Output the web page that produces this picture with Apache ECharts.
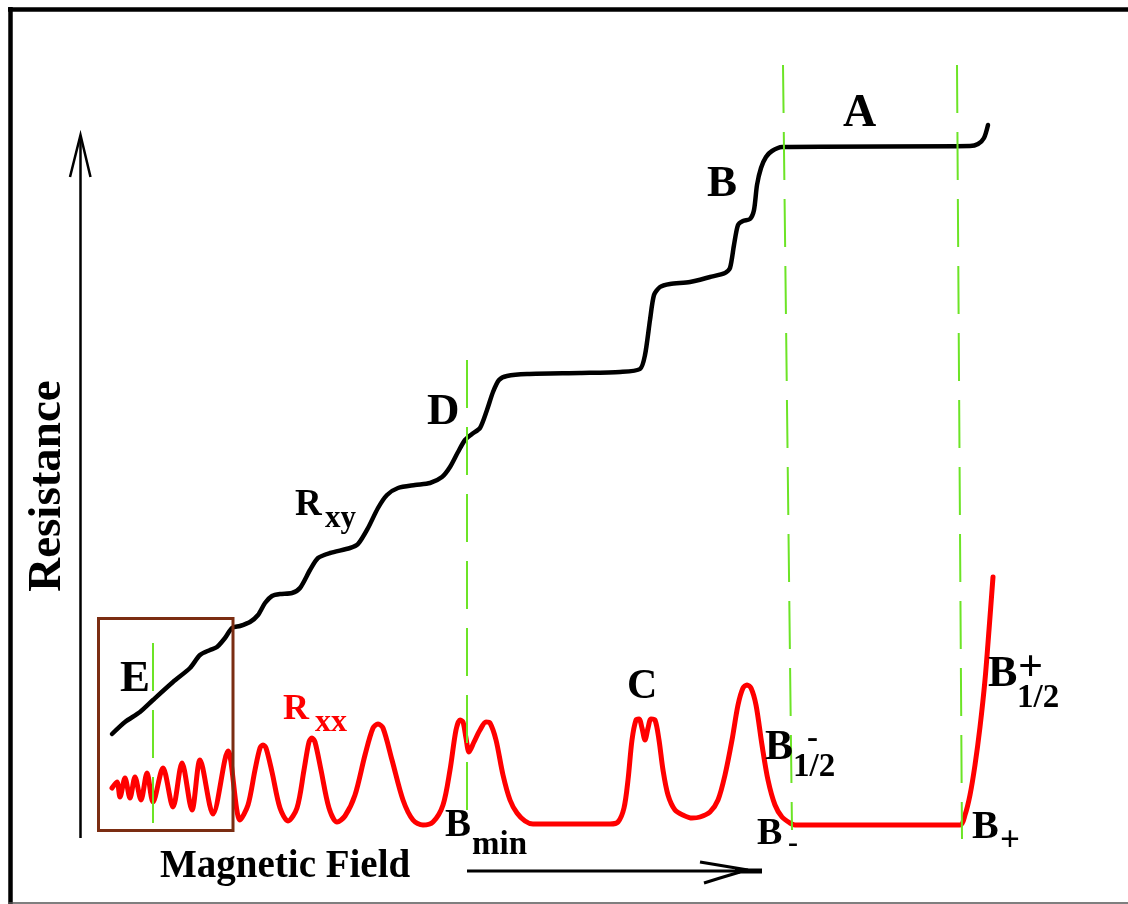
<!DOCTYPE html>
<html>
<head>
<meta charset="utf-8">
<script src="https://cdn.jsdelivr.net/npm/echarts@6/dist/echarts.min.js"></script>
<style>
html,body{margin:0;padding:0;background:#fff;}
#chart{width:1128px;height:904px;}
</style>
</head>
<body>
<div id="chart"></div>
<script>
// Hall resistance R_xy : [field, resistance] (arbitrary units)
var rxyPoints = [
  [3.2,10.4],[4.5,11.6],[6.0,12.6],[7.3,13.8],[9.3,15.6],[11.0,17.0],[12.0,18.3],[13.0,18.8],
  [13.7,19.1],[14.5,20.0],[15.2,21.0],[16.0,21.2],[17.0,21.6],[17.8,22.3],[18.5,23.5],[19.2,24.2],
  [20.0,24.4],[21.2,24.5],[22.0,25.0],[23.0,26.8],[23.8,28.0],[25.0,28.5],[27.0,29.0],[27.8,29.4],
  [28.8,31.0],[29.8,33.0],[30.7,34.3],[31.8,35.0],[33.5,35.3],[35.0,35.5],[36.2,36.1],[37.0,37.1],
  [37.8,38.6],[38.5,39.8],[39.2,40.4],[40.0,41.0],[40.7,42.8],[41.3,44.6],[41.9,45.8],[42.7,46.2],
  [44.7,46.4],[50.0,46.5],[54.0,46.6],[56.0,46.9],[56.5,48.3],[57.0,51.8],[57.4,54.3],[58.0,55.1],
  [59.0,55.4],[61.0,55.6],[63.0,56.1],[64.5,56.5],[65.0,57.0],[65.4,59.3],[65.8,61.3],[66.3,61.7],
  [67.0,61.9],[67.4,62.8],[67.7,65.3],[68.1,67.0],[68.6,68.1],[69.2,68.7],[70.2,69.1],[89.0,69.2],
  [89.8,69.4],[90.4,70.0],[90.8,71.3]
];
// Longitudinal resistance R_xx : [field, resistance]
var rxxPoints = [
  [3.2,5.0],[3.7,5.6],[4.0,4.1],[4.5,6.0],[5.0,4.0],[5.5,6.1],[6.1,3.8],[6.7,6.5],[7.3,3.6],
  [8.3,7.0],[9.3,3.1],[10.2,7.5],[11.2,2.8],[12.0,7.8],[13.3,2.4],[14.8,8.7],[16.0,1.8],
  [16.8,3.3],[17.5,6.8],[18.0,9.0],[18.3,9.3],[18.6,9.0],[19.2,6.6],[20.0,3.0],[20.8,1.7],
  [21.7,3.0],[22.4,6.8],[22.9,9.6],[23.2,10.0],[23.5,9.6],[24.1,6.8],[24.9,3.0],[25.7,1.6],
  [26.5,2.2],[27.5,4.3],[28.5,8.3],[29.3,11.0],[29.8,11.4],[30.3,11.0],[31.2,7.8],[32.3,3.8],
  [33.3,1.8],[34.3,1.3],[35.3,1.6],[36.3,3.3],[37.0,6.8],[37.6,10.8],[38.0,11.8],[38.3,11.6],
  [38.6,10.0],[38.9,8.6],[39.4,9.6],[40.0,10.8],[40.6,11.6],[41.0,11.5],[41.6,9.8],[42.3,6.3],
  [43.0,3.8],[43.7,2.5],[44.5,1.7],[45.3,1.4],[53.0,1.4],[53.8,1.6],[54.4,3.0],[54.8,5.8],
  [55.2,9.8],[55.6,11.8],[55.9,11.9],[56.2,11.0],[56.5,9.8],[56.8,11.0],[57.1,11.9],[57.5,11.8],
  [57.9,9.8],[58.3,6.8],[58.8,4.3],[59.5,2.8],[60.3,2.3],[61.2,2.0],[62.0,2.1],[63.0,2.6],
  [63.8,3.8],[64.5,6.3],[65.2,9.8],[65.8,13.3],[66.3,15.0],[66.7,15.3],[67.1,15.0],[67.6,13.3],
  [68.2,9.3],[68.8,5.8],[69.5,3.3],[70.2,2.1],[71.0,1.5],[71.5,1.3],[88.0,1.3],[88.5,2.3],
  [89.0,4.3],[89.5,7.3],[90.0,11.1],[90.5,15.8],[90.9,20.8],[91.3,26.1]
];
// Guide lines (green dashed): [field, value] at top and bottom
var guideE     = [[7.3,19.5],[7.3,1.5]];
var guideBmin  = [[38.7,47.8],[38.7,0.8]];
var guideBminus= [[70.3,77.3],[71.2,0.8]];
var guideBplus = [[87.7,77.3],[88.2,-0.2]];

var FONT = '"Liberation Serif", "DejaVu Serif", serif';
function txt(x, y, s, size, color, extra) {
  var o = {
    type: 'text', x: x, y: y, z: 100,
    style: { text: s, font: 'bold ' + size + 'px ' + FONT, fill: color || '#000',
             textAlign: 'left', textVerticalAlign: 'middle' }
  };
  if (extra) for (var k in extra) o[k] = extra[k];
  return o;
}
function guideSeries(pts) {
  return {
    type: 'line', data: pts, showSymbol: false, silent: true, z: 5,
    lineStyle: { color: '#6ce426', width: 2, type: [48, 19] }
  };
}

var chart = echarts.init(document.getElementById('chart'), null, { renderer: 'canvas' });
chart.setOption({
  animation: false,
  backgroundColor: '#fff',
  grid: { left: 80, right: 28, top: 8, bottom: 66 },
  xAxis: { type: 'value', min: 0, max: 102, show: false },
  yAxis: { type: 'value', min: 0, max: 83, show: false },
  series: [
    { name: 'Rxx', type: 'line', data: rxxPoints, showSymbol: false, smooth: 0.3, z: 3,
      lineStyle: { color: '#ff0000', width: 5, join: 'round', cap: 'round' } },
    { name: 'Rxy', type: 'line', data: rxyPoints, showSymbol: false, smooth: 0.25, z: 3,
      lineStyle: { color: '#000000', width: 4.5, join: 'round', cap: 'round' } },
    guideSeries(guideE), guideSeries(guideBmin), guideSeries(guideBminus), guideSeries(guideBplus)
  ],
  graphic: [
    // outer frame
    { type: 'line', shape: { x1: 10.5, y1: 7, x2: 10.5, y2: 904 }, style: { stroke: '#000', lineWidth: 4.5 } },
    { type: 'line', shape: { x1: 8, y1: 9.5, x2: 1128, y2: 9.5 }, style: { stroke: '#000', lineWidth: 4.5 } },
    { type: 'line', shape: { x1: 8, y1: 903, x2: 1128, y2: 903 }, style: { stroke: '#555', lineWidth: 1.5 } },
    // vertical resistance arrow
    { type: 'line', shape: { x1: 80.5, y1: 137, x2: 80.5, y2: 838 }, style: { stroke: '#000', lineWidth: 2.5 } },
    { type: 'polyline', shape: { points: [[70, 177], [80.5, 135], [90.5, 177]] },
      style: { stroke: '#000', lineWidth: 2.5, fill: null, lineJoin: 'miter' } },
    // bottom field arrow
    { type: 'line', shape: { x1: 467, y1: 871, x2: 762, y2: 871 }, style: { stroke: '#000', lineWidth: 3 } },
    { type: 'line', shape: { x1: 735, y1: 871, x2: 762, y2: 871 }, style: { stroke: '#000', lineWidth: 5 } },
    { type: 'polyline', shape: { points: [[700, 862], [718, 865], [748, 870]] }, style: { stroke: '#000', lineWidth: 3, fill: null } },
    { type: 'polyline', shape: { points: [[704, 883], [720, 878], [740, 872]] }, style: { stroke: '#000', lineWidth: 3, fill: null } },
    // box E
    { type: 'rect', shape: { x: 98.5, y: 618.5, width: 134.5, height: 212 }, z: 4,
      style: { stroke: '#7b2d12', lineWidth: 3, fill: null } },
    // axis titles
    txt(48, 486, 'Resistance', 47, '#000', { rotation: Math.PI / 2, style: { text: 'Resistance', font: 'bold 47px ' + FONT, fill: '#000', textAlign: 'center', textVerticalAlign: 'middle' } }),
    txt(160, 867, 'Magnetic Field', 39),
    // point labels
    txt(843, 114, 'A', 46),
    txt(707, 184, 'B', 45),
    txt(427, 412, 'D', 45),
    txt(627, 687, 'C', 42),
    txt(120, 679, 'E', 45),
    txt(295, 505, 'R', 37),
    txt(325, 519, 'xy', 31),
    txt(283, 710, 'R', 36, '#ff0000'),
    txt(315, 723, 'xx', 32, '#ff0000'),
    txt(445, 826, 'B', 39),
    txt(472, 845, 'min', 33),
    txt(757, 834, 'B', 38),
    txt(788, 844, '-', 30),
    txt(765, 748, 'B', 42),
    txt(807, 739, '-', 33),
    txt(793, 767, '1/2', 33),
    txt(972, 828, 'B', 40),
    txt(1000, 842, '+', 35),
    txt(988, 675, 'B', 44),
    txt(1018, 669, '+', 44),
    txt(1017, 698, '1/2', 33)
  ]
});
</script>
</body>
</html>
